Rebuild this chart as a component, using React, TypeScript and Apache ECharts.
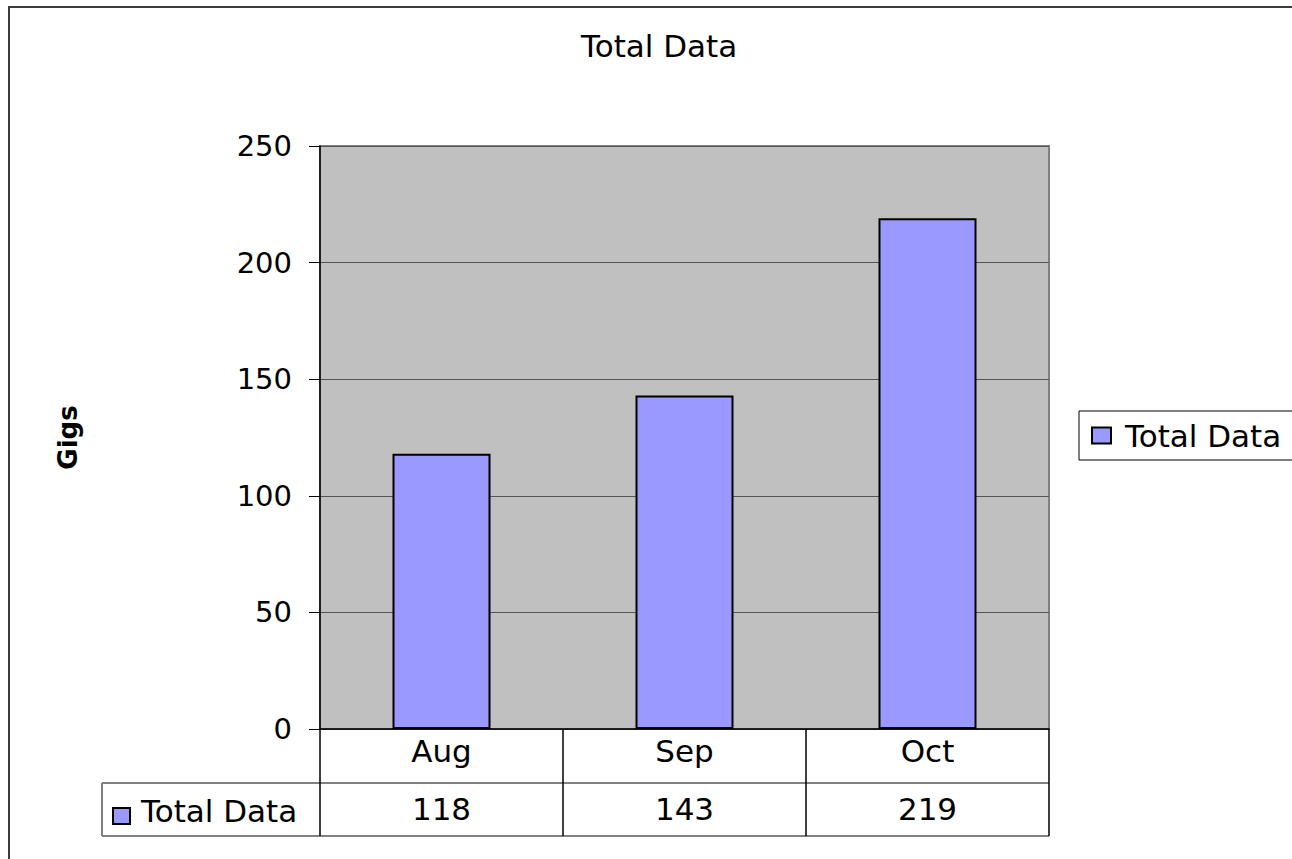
import React, { useEffect, useRef } from "react";
import * as echarts from "echarts";

const categories = ["Aug", "Sep", "Oct"];
const seriesName = "Total Data";
const values = [118, 143, 219];
const yTicks = { min: 0, max: 250, interval: 50 };
const titleText = "Total Data";
const yAxisName = "Gigs";

const FONT = "DejaVu Sans";

export default function App() {
  const ref = useRef<HTMLDivElement>(null);
  useEffect(() => {
    if (!ref.current) return;
    const chart = echarts.init(ref.current, null, { renderer: "svg" });
    const gridLeft = 320;
    const gridTop = 146;
    const gridRight = 1049;
    const gridBottom = 729;
    const row1 = 783;
    const row2 = 836;
    chart.setOption({
      animation: false,
      backgroundColor: "#ffffff",
      title: {
        text: titleText,
        left: 581,
        top: 30,
        padding: 0,
        textStyle: { fontFamily: FONT, fontSize: 31, fontWeight: "normal", color: "#000" },
      },
      legend: {
        data: [seriesName],
        left: 1079,
        top: 411,
        orient: "vertical",
        borderColor: "#000",
        borderWidth: 1,
        padding: [9, 30, 9, 12],
        itemWidth: 19,
        itemHeight: 16,
        icon: "rect",
        itemStyle: { color: "#9999ff", borderColor: "#000", borderWidth: 2 },
        textStyle: { fontFamily: FONT, fontSize: 31, color: "#000", padding: [0, 0, 0, 9] },
      },
      grid: {
        left: gridLeft,
        top: gridTop,
        width: gridRight - gridLeft,
        height: gridBottom - gridTop,
        show: true,
        backgroundColor: "#c0c0c0",
        borderColor: "#808080",
        borderWidth: 2,
      },
      xAxis: [
        {
          type: "category",
          data: categories,
          position: "bottom",
          axisLine: { show: true, lineStyle: { color: "#000", width: 1.5 } },
          axisTick: { show: true, length: row2 - gridBottom, inside: false, lineStyle: { color: "#000", width: 1.5 } },
          axisLabel: { fontFamily: FONT, fontSize: 31, color: "#000", margin: 6 },
        },
        {
          type: "category",
          data: values.map((v) => String(v)),
          position: "bottom",
          offset: 58,
          axisLine: { show: false },
          axisTick: { show: false },
          axisLabel: { fontFamily: FONT, fontSize: 31, color: "#000", margin: 6 },
        },
      ],
      yAxis: {
        type: "value",
        min: yTicks.min,
        max: yTicks.max,
        interval: yTicks.interval,
        name: yAxisName,
        nameLocation: "middle",
        nameRotate: 90,
        nameGap: 239,
        nameTextStyle: { fontFamily: FONT, fontSize: 26, fontWeight: "bold", color: "#000" },
        axisLine: { show: true, lineStyle: { color: "#000", width: 1.5 } },
        axisTick: { show: true, length: 11, inside: false, lineStyle: { color: "#000", width: 1 } },
        axisLabel: { fontFamily: FONT, fontSize: 29, color: "#000", margin: 28 },
        splitLine: { show: true, lineStyle: { color: "#555555", width: 1 } },
      },
      series: [
        {
          type: "bar",
          name: seriesName,
          data: values,
          xAxisIndex: 0,
          barWidth: 98,
          itemStyle: { color: "#9999ff", borderColor: "#000", borderWidth: 2 },
        },
      ],
      graphic: [
        {
          type: "rect",
          silent: true,
          z: -1,
          shape: { x: 9, y: 7, width: 2000, height: 2000 },
          style: { fill: "none", stroke: "#3c3c3c", lineWidth: 2 },
        },
        {
          type: "line",
          silent: true,
          shape: { x1: 102, y1: row1, x2: gridRight, y2: row1 },
          style: { stroke: "#808080", lineWidth: 2 },
        },
        {
          type: "line",
          silent: true,
          shape: { x1: 102, y1: row2, x2: gridRight, y2: row2 },
          style: { stroke: "#808080", lineWidth: 2 },
        },
        {
          type: "line",
          silent: true,
          shape: { x1: 102, y1: row1, x2: 102, y2: row2 },
          style: { stroke: "#808080", lineWidth: 2 },
        },
        {
          type: "rect",
          silent: true,
          shape: { x: 113, y: 808, width: 17, height: 16 },
          style: { fill: "#9999ff", stroke: "#000", lineWidth: 2 },
        },
        {
          type: "text",
          silent: true,
          x: 141,
          y: 811,
          style: {
            text: seriesName,
            fontFamily: FONT,
            fontSize: 31,
            fill: "#000",
            verticalAlign: "middle",
            align: "left",
          },
        },
      ],
    });
    return () => chart.dispose();
  }, []);
  return (
    <div
      ref={ref}
      style={{ position: "fixed", left: 0, top: 0, width: 1292, height: 859, background: "#fff" }}
    />
  );
}
